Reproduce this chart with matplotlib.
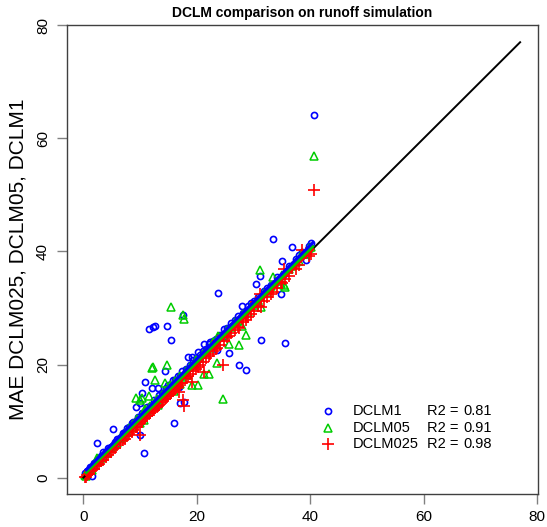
import matplotlib
matplotlib.use("Agg")
import matplotlib.pyplot as plt
import numpy as np

plt.rcParams['font.family'] = ['Liberation Sans', 'DejaVu Sans']

# ---- data ----
obs = [0.3, 0.6, 0.9, 1.2, 1.8, 2.2, 2.7, 3.1, 3.5, 3.9, 4.3, 4.8, 5.5, 6.0, 6.4, 6.9, 7.3, 7.7, 8.1, 8.5,
       8.8, 9.4, 9.7, 10.4, 10.9, 11.3, 11.8, 12.5, 12.9, 13.4, 13.8, 14.1, 14.6, 15.0, 15.3, 15.8, 16.2, 16.6, 17.0, 17.4,
       18.1, 18.8, 19.4, 19.8, 20.5, 21.0, 21.7, 22.4, 22.9, 23.3, 24.1, 24.8, 25.3, 26.1, 26.7, 27.2, 28.1, 29.0, 29.6, 30.1,
       30.8, 31.8, 32.4, 33.0, 34.2, 36.2, 37.5, 38.0, 39.8, 40.2,
       40.6, 39.3, 38.5, 36.8, 35.5, 35.0, 35.4, 33.5, 34.8, 31.2, 30.4, 31.4, 27.9, 28.7, 27.4, 25.6, 23.8, 24.6, 23.5, 21.3,
       19.1, 20.2, 17.6, 17.8, 15.5, 14.7, 12.7, 12.2, 11.6, 14.3, 10.8, 10.3, 9.2, 17.1, 15.9, 16.8, 5.2, 10.0, 2.4, 10.7,
       1.5, 12.1, 13.1, 9.9, 22.1, 18.5, 0.5]

dclm1 = [0.8, 1.2, 1.3, 1.9, 2.6, 2.7, 3.5, 3.8, 4.6, 4.5, 5.2, 5.5, 6.3, 6.9, 7.0, 7.9, 8.0, 8.8, 8.9, 9.6,
         9.9, 10.2, 10.8, 11.5, 11.6, 12.5, 12.6, 13.8, 13.7, 14.6, 15.0, 14.9, 15.8, 16.4, 16.1, 17.2, 17.3, 17.9, 18.0, 18.9,
         19.2, 19.9, 20.8, 20.9, 21.7, 22.4, 22.8, 23.9, 24.1, 24.6, 25.2, 26.3, 26.4, 27.3, 27.9, 28.6, 29.2, 30.4, 30.8, 31.3,
         32.0, 33.0, 33.6, 34.1, 35.5, 37.4, 38.6, 39.3, 40.9, 41.5,
         64.2, 38.5, 39.9, 40.8, 23.8, 38.3, 36.0, 42.2, 32.5, 35.6, 34.3, 24.4, 30.3, 19.1, 19.9, 22.1, 32.6, 24.9, 22.5, 23.7,
         21.4, 22.2, 28.8, 13.4, 24.3, 26.8, 26.9, 26.6, 26.2, 18.8, 16.9, 14.9, 12.5, 13.2, 9.7, 16.0, 8.6, 7.5, 6.2, 4.3,
         0.3, 15.9, 15.9, 13.2, 23.7, 21.4, 0.4]

dclm05 = [0.5, 0.8, 1.3, 1.5, 2.2, 2.9, 3.0, 3.5, 3.9, 4.4, 4.5, 5.3, 5.9, 6.2, 7.0, 7.2, 7.9, 8.0, 8.7, 9.0,
          9.4, 10.3, 10.1, 11.0, 11.8, 11.7, 12.6, 13.0, 13.9, 13.8, 14.7, 14.5, 15.5, 15.4, 16.3, 16.1, 17.1, 17.0, 17.9, 17.8,
          18.9, 19.5, 19.9, 20.8, 21.1, 21.9, 22.3, 23.0, 23.9, 23.8, 24.9, 25.2, 26.1, 26.6, 27.5, 27.7, 28.9, 29.3, 30.4, 30.6,
          31.5, 32.6, 32.9, 33.9, 34.8, 36.9, 38.2, 38.4, 40.6, 40.8,
          56.8, 39.5, 39.8, 37.5, 33.8, 35.8, 34.0, 35.4, 34.3, 36.7, 31.0, 30.1, 26.8, 25.3, 23.4, 23.7, 25.0, 13.9, 20.2, 18.4,
          16.4, 16.4, 28.7, 28.0, 30.1, 20.0, 17.2, 19.6, 14.5, 16.8, 12.2, 14.0, 14.0, 16.5, 15.3, 16.5, 5.6, 9.6, 3.4, 10.2,
          1.4, 19.4, 12.9, 13.8, 18.4, 18.2, 0.3]

dclm025 = [0.2, 0.5, 0.7, 1.1, 1.6, 2.0, 2.5, 2.9, 3.2, 3.7, 4.0, 4.5, 5.2, 5.7, 6.1, 6.6, 6.9, 7.3, 7.8, 8.1,
           8.5, 9.0, 9.4, 10.0, 10.5, 10.9, 11.4, 12.0, 12.5, 12.9, 13.3, 13.7, 14.1, 14.5, 14.8, 15.3, 15.6, 16.1, 16.4, 16.8,
           17.6, 18.3, 18.9, 19.3, 19.9, 20.5, 21.2, 21.8, 22.4, 22.8, 23.5, 24.2, 24.8, 25.5, 26.1, 26.6, 27.5, 28.4, 29.0, 29.5,
           30.3, 31.2, 31.9, 32.4, 33.6, 35.6, 36.9, 37.6, 39.2, 39.6,
           50.8, 39.8, 40.3, 37.0, 35.2, 34.4, 36.9, 32.9, 34.6, 32.5, 31.0, 30.2, 28.2, 27.8, 26.5, 25.0, 24.2, 19.9, 23.0, 18.7,
           16.9, 19.5, 13.7, 12.7, 15.0, 14.5, 12.4, 12.0, 11.4, 13.9, 10.6, 10.1, 9.0, 16.8, 15.5, 15.2, 5.1, 7.5, 2.5, 10.3,
           1.3, 11.8, 12.7, 9.7, 21.6, 18.0, 0.2]

series_names = ["DCLM1", "DCLM05", "DCLM025"]
r2_values = ["0.81", "0.91", "0.98"]
fit_intercepts = [0.9, 0.45, 0.05]
fit_slopes = [1.005, 1.0, 0.998]
one_to_one = [0, 77]
x_ticks = [0, 20, 40, 60, 80]
y_ticks = [0, 20, 40, 60, 80]

colors = ["#0000FF", "#00CD00", "#FF0000"]

fig = plt.figure(figsize=(5.47, 5.27), dpi=100)
ax = fig.add_axes([0.1219, 0.0620, 0.8611, 0.8906])

ax.plot(obs, dclm1, linestyle='none', marker='o', ms=4.4, mfc='none', mec=colors[0], mew=1.2)
ax.plot(obs, dclm05, linestyle='none', marker='^', ms=6, mfc='none', mec=colors[1], mew=1.1)
ax.plot(obs, dclm025, linestyle='none', marker='+', ms=8, mec=colors[2], mew=1.2)

ax.plot(one_to_one, one_to_one, color='black', lw=1.4)
xr = np.array([min(obs), max(obs)])
for i in [2, 1, 0]:
    ax.plot(xr, fit_intercepts[i] + fit_slopes[i] * xr, color=colors[i], lw=2.2, solid_capstyle='butt')

ax.set_xlim(-2.95, 80.1)
ax.set_ylim(-2.95, 80.05)
ax.set_xticks(x_ticks)
ax.set_yticks(y_ticks)
ax.tick_params(axis='both', direction='out', length=7, width=1, color='#808080', labelsize=11, labelcolor='black')
ax.tick_params(axis='x', pad=4)
ax.tick_params(axis='y', pad=5)
for lab in ax.get_yticklabels():
    lab.set_rotation(90)
    lab.set_va('center')
for s in ax.spines.values():
    s.set_color('#404040')
    s.set_linewidth(1.0)

ax.set_title("DCLM comparison on runoff simulation", fontsize=10, fontweight='bold', pad=6)
ax.set_ylabel("MAE DCLM025, DCLM05, DCLM1", fontsize=15)
ax.yaxis.set_label_coords(-0.084, 0.5)

# legend (no frame)
markers = [dict(marker='o', ms=4.4, mfc='none', mew=1.2),
           dict(marker='^', ms=6, mfc='none', mew=1.1),
           dict(marker='+', ms=8, mew=1.2)]
rows_y = [0.178, 0.142, 0.107]
for i in range(3):
    ax.plot([0.554], [rows_y[i]], transform=ax.transAxes, linestyle='none', mec=colors[i], **markers[i], clip_on=False)
    ax.text(0.607, rows_y[i], series_names[i], transform=ax.transAxes, fontsize=10.5, va='center', ha='left')
    ax.text(0.766, rows_y[i], "R2 = ", transform=ax.transAxes, fontsize=10.5, va='center', ha='left')
    ax.text(0.842, rows_y[i], r2_values[i], transform=ax.transAxes, fontsize=10.5, va='center', ha='left')

fig.savefig("out.png", dpi=100)
